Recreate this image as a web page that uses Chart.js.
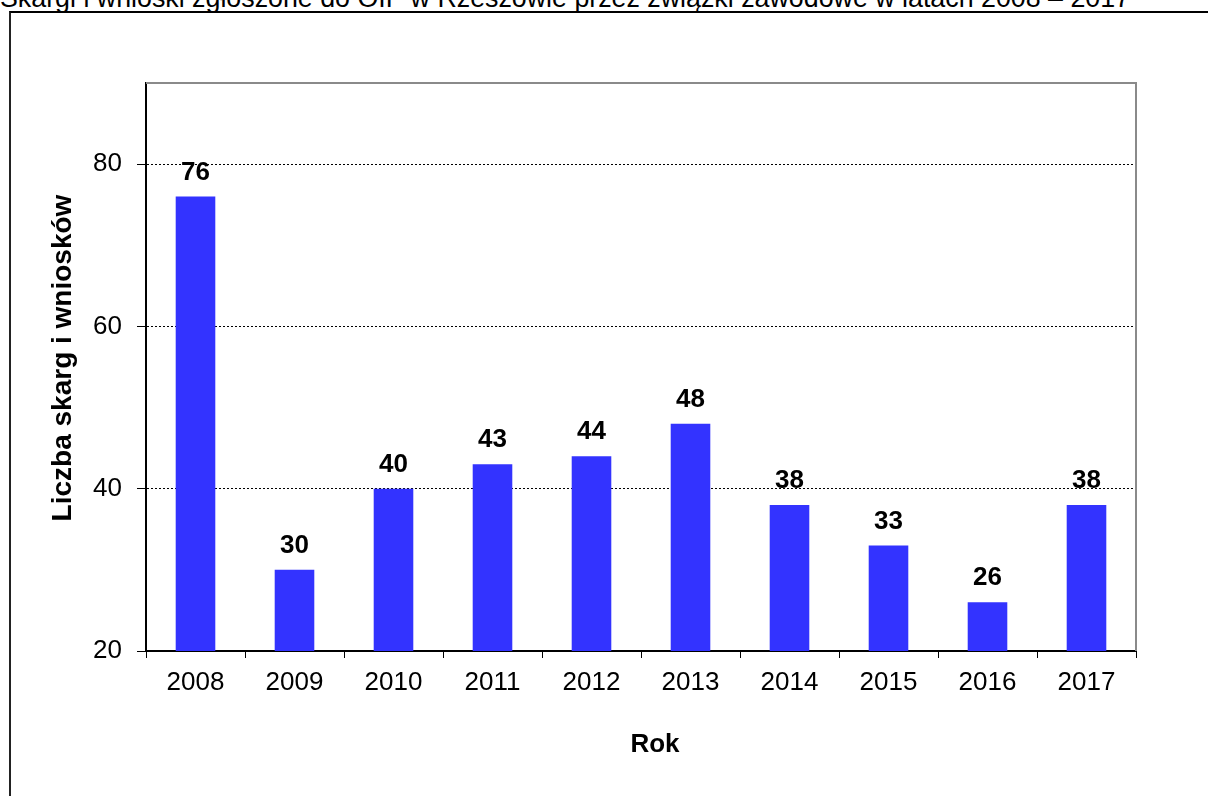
<!DOCTYPE html>
<html>
<head>
<meta charset="utf-8">
<script src="https://cdn.jsdelivr.net/npm/chart.js@4"></script>
<style>
    body { margin: 0; background: #fff; overflow: hidden; }
    #heading {
        position: absolute; left: 0; top: -15px;
        font: 26.8px "Liberation Sans", Arial, sans-serif; line-height: 26px;
        white-space: nowrap; color: #000;
    }
    #frame {
        position: absolute; left: 9px; top: 11px; width: 1400px; height: 1000px;
        border-top: 2px solid #000; border-left: 2px solid #222;
    }
    #myChart { position: absolute; left: 0; top: 0; }
</style>
</head>
<body>
<div id="heading">Skargi i wnioski zgłoszone do OIP w Rzeszowie przez związki zawodowe w latach 2008 – 2017</div>
<div id="frame"></div>
<canvas id="myChart" width="1208" height="796"></canvas>
<script>
// complaints and requests per year
const years = ['2008', '2009', '2010', '2011', '2012', '2013', '2014', '2015', '2016', '2017'];
const counts = [76, 30, 40, 43, 44, 48, 38, 33, 26, 38];
const yTicks = [20, 40, 60, 80];
const xTitle = 'Rok';
const yTitle = 'Liczba skarg i wniosków';

Chart.defaults.font.family = '"Liberation Sans", Arial, sans-serif';
Chart.defaults.color = '#000';

// gray frame along the top and right of the plot
const plotFrame = {
    id: 'plotFrame',
    beforeDatasetsDraw(chart) {
        const { ctx, chartArea: a } = chart;
        ctx.save();
        ctx.strokeStyle = '#8a8a8a';
        ctx.lineWidth = 2;
        ctx.beginPath();
        ctx.moveTo(a.left, a.top);
        ctx.lineTo(a.right, a.top);
        ctx.lineTo(a.right, a.bottom);
        ctx.stroke();
        ctx.restore();
    }
};

// value on top of each bar
const barValues = {
    id: 'barValues',
    afterDatasetsDraw(chart) {
        const { ctx } = chart;
        const meta = chart.getDatasetMeta(0);
        ctx.save();
        ctx.font = 'bold 26px "Liberation Sans", Arial, sans-serif';
        ctx.fillStyle = '#000';
        ctx.textAlign = 'center';
        ctx.textBaseline = 'alphabetic';
        meta.data.forEach((bar, i) => {
            ctx.fillText(String(counts[i]), bar.x, bar.y - 17);
        });
        ctx.restore();
    }
};

// axis titles, a little off the plot centre like the old Excel layout
const axisTitles = {
    id: 'axisTitles',
    afterDraw(chart) {
        const { ctx, chartArea: a } = chart;
        ctx.save();
        ctx.fillStyle = '#000';
        ctx.textAlign = 'center';
        ctx.textBaseline = 'middle';
        ctx.font = 'bold 26px "Liberation Sans", Arial, sans-serif';
        ctx.fillText(xTitle, (a.left + a.right) / 2 + 14, a.bottom + 94);
        ctx.translate(63, (a.top + a.bottom) / 2 - 9);
        ctx.rotate(-Math.PI / 2);
        ctx.font = 'bold 28px "Liberation Sans", Arial, sans-serif';
        ctx.fillText(yTitle, 0, 0);
        ctx.restore();
    }
};

let barCtx = document.getElementById('myChart').getContext('2d');

new Chart(barCtx, {
    type: 'bar',
    data: {
        labels: years,
        datasets: [{
            data: counts,
            backgroundColor: '#3333ff',
            barPercentage: 0.4,
            categoryPercentage: 1
        }]
    },
    plugins: [plotFrame, barValues, axisTitles],
    options: {
        responsive: false,
        animation: false,
        devicePixelRatio: 1,
        layout: { padding: { top: 83, right: 72, bottom: 0, left: 0 } },
        plugins: {
            legend: { display: false },
            tooltip: { enabled: false }
        },
        scales: {
            x: {
                offset: true,
                afterFit: (scale) => { scale.height = 145; },
                grid: {
                    offset: true,
                    drawOnChartArea: false,
                    tickLength: 7,
                    tickColor: '#000'
                },
                border: { color: '#000', width: 2 },
                ticks: { font: { size: 26 }, padding: 9, color: '#000' }
            },
            y: {
                min: 20,
                max: 90,
                afterFit: (scale) => { scale.width = 146; },
                afterBuildTicks: (scale) => { scale.ticks = yTicks.map(v => ({ value: v })); },
                grid: {
                    color: (c) => (c.tick && c.tick.value === 20) ? 'rgba(0,0,0,0)' : '#000',
                    tickColor: '#000',
                    tickLength: 9,
                    tickBorderDash: []
                },
                border: { color: '#000', width: 2, dash: [2, 2] },
                ticks: { font: { size: 26 }, padding: 15, color: '#000' }
            }
        }
    }
});
</script>
</body>
</html>
